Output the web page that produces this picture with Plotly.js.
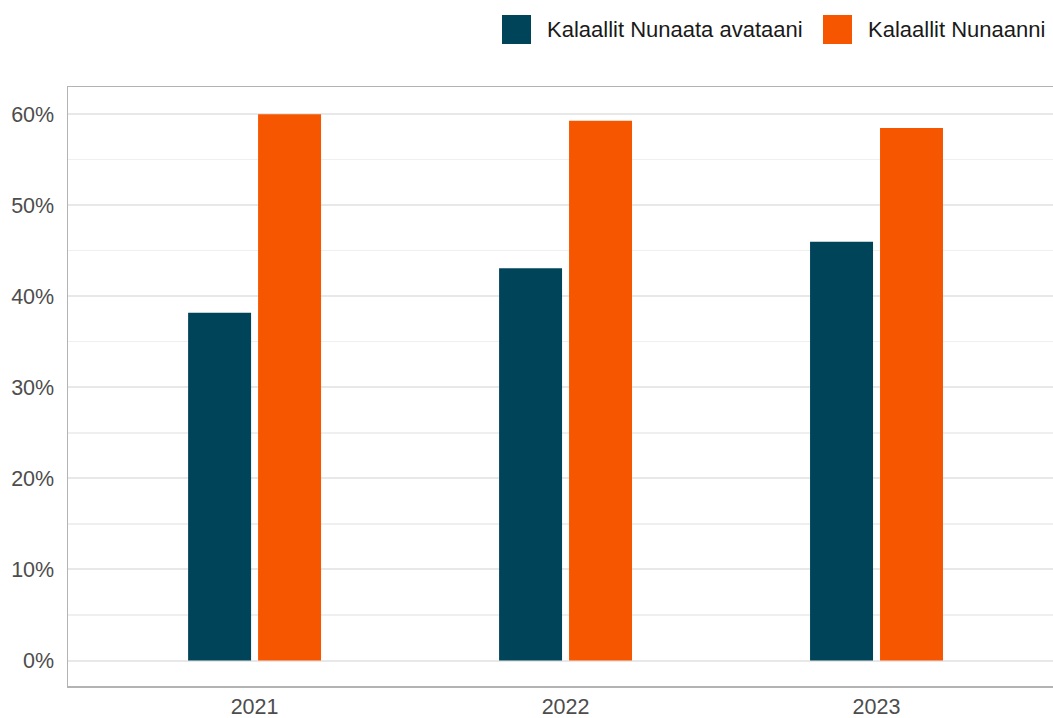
<!DOCTYPE html>
<html>
<head>
<meta charset="utf-8">
<script src="https://cdn.plot.ly/plotly-3.0.1.min.js"></script>
<style>html,body{margin:0;padding:0;background:#fff;}#chart{width:1053px;height:718px;}</style>
</head>
<body>
<div id="chart"></div>
<script>
var years = ['2021', '2022', '2023'];
var seriesNames = ['Kalaallit Nunaata avataani', 'Kalaallit Nunaanni'];
var outsideValues = [38.2, 43.1, 46.0];
var insideValues = [60.0, 59.3, 58.5];
var yTickVals = [0, 10, 20, 30, 40, 50, 60];
var yTickText = ['0%', '10%', '20%', '30%', '40%', '50%', '60%'];
var colors = ['#00445a', '#f75600'];

var W = 1053, H = 718;
var M = {l: 68, r: 0, t: 87, b: 32};
var pw = W - M.l - M.r, ph = H - M.t - M.b;
function px(x) { return (x - M.l) / pw; }
function py(y) { return (H - M.b - y) / ph; }

var font = 'Liberation Sans, Arial, sans-serif';

var traces = [
  {type: 'bar', name: seriesNames[0], x: years, y: outsideValues, marker: {color: colors[0]}, showlegend: false, hoverinfo: 'skip'},
  {type: 'bar', name: seriesNames[1], x: years, y: insideValues, marker: {color: colors[1]}, showlegend: false, hoverinfo: 'skip'}
];

var legendItems = [
  {sq: 502, tx: 545},
  {sq: 823, tx: 866}
];
var shapes = [], annotations = [];
legendItems.forEach(function (it, i) {
  shapes.push({type: 'rect', xref: 'paper', yref: 'paper',
    x0: px(it.sq), x1: px(it.sq + 29), y0: py(44), y1: py(15),
    fillcolor: colors[i], line: {width: 0}});
  annotations.push({xref: 'paper', yref: 'paper', x: px(it.tx), y: py(30),
    xanchor: 'left', yanchor: 'middle', showarrow: false, text: seriesNames[i],
    font: {family: font, size: 22, color: '#1a1a1a'}});
});

var layout = {
  width: W, height: H,
  margin: M,
  paper_bgcolor: '#ffffff', plot_bgcolor: '#ffffff',
  font: {family: font, size: 22, color: '#4d4d4d'},
  barmode: 'group', bargap: 0.55, bargroupgap: 0.1,
  showlegend: false,
  xaxis: {
    type: 'category', range: [-0.6, 2.5675],
    showgrid: false, zeroline: false,
    showline: true, mirror: true, linecolor: '#b3b3b3', linewidth: 1.5,
    ticks: '', tickfont: {family: font, size: 21.5, color: '#4d4d4d'},
    ticklabelstandoff: 1
  },
  yaxis: {
    range: [-2.8, 63.0],
    tickvals: yTickVals, ticktext: yTickText,
    showgrid: true, gridcolor: '#e8e8e8', gridwidth: 2,
    minor: {dtick: 5, tick0: 5, showgrid: true, gridcolor: '#efefef', gridwidth: 1.2},
    zeroline: false,
    showline: true, mirror: false, linecolor: '#b3b3b3', linewidth: 1.5,
    ticks: '', tickfont: {family: font, size: 21.5, color: '#4d4d4d'},
    ticklabelstandoff: 8
  },
  shapes: shapes,
  annotations: annotations
};

Plotly.newPlot('chart', traces, layout, {displayModeBar: false, staticPlot: true});
</script>
</body>
</html>
